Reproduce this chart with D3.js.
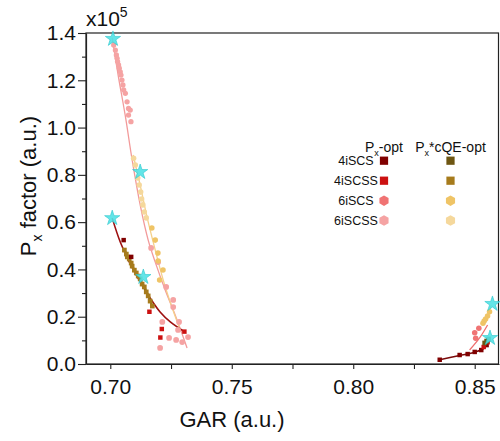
<!DOCTYPE html>
<html>
<head>
<meta charset="utf-8">
<script src="https://cdn.jsdelivr.net/npm/d3@7"></script>
<style>
  body { margin: 0; background: #fff; }
  svg { font-family: "Liberation Sans", Arial, sans-serif; }
</style>
</head>
<body>
<div id="chart"></div>
<script>
// axis ticks
const xTicks = [0.70, 0.75, 0.80, 0.85];
const xMinor = [0.725, 0.775, 0.825];
const yTicks = [0.0, 0.2, 0.4, 0.6, 0.8, 1.0, 1.2, 1.4];
const yMinor = [0.1, 0.3, 0.5, 0.7, 0.9, 1.1, 1.3];

// legend rows
const legendNames = ['4iSCS', '4iSCSS', '6iSCS', '6iSCSS'];
const colorsPx = ['#800000', '#cc1111', '#f07373', '#f5a3a3'];
const colorsCqe = ['#6e5612', '#a67b1c', '#efc466', '#f5d89c'];

// points [GAR, Px factor (x1e5)] - left group
const px4iSCS = [[0.7055, 0.524], [0.7086, 0.453]];
const px4iSCSS = [[0.7161, 0.221], [0.7212, 0.148], [0.7305, 0.137], [0.7206, 0.112]];
const px6iSCSS = [[0.7014, 1.349], [0.7021, 1.328], [0.7025, 1.307], [0.7028, 1.293], [0.7030, 1.279],
  [0.7034, 1.265], [0.7037, 1.251], [0.7041, 1.236], [0.7044, 1.222], [0.7048, 1.201], [0.7052, 1.180],
  [0.7055, 1.159], [0.7062, 1.145], [0.7069, 1.109], [0.7075, 1.081], [0.7082, 1.074], [0.7075, 1.053],
  [0.7085, 1.025]];
const px6iSCS = [[0.7197, 0.431], [0.7230, 0.326], [0.7259, 0.271], [0.7259, 0.241], [0.7283, 0.178],
  [0.7214, 0.178], [0.7279, 0.144], [0.7320, 0.114], [0.7242, 0.110], [0.7271, 0.102], [0.7296, 0.093],
  [0.7205, 0.068], [0.7168, 0.491]];
const cqe4iSCSS = [[0.7058, 0.482], [0.7066, 0.465], [0.7070, 0.453], [0.7078, 0.444], [0.7086, 0.427],
  [0.7090, 0.414], [0.7099, 0.397], [0.7107, 0.385], [0.7115, 0.372], [0.7123, 0.360], [0.7131, 0.338],
  [0.7140, 0.326], [0.7148, 0.305], [0.7156, 0.288], [0.7164, 0.266], [0.7173, 0.245]];
const cqe6iSCSS = [[0.7096, 0.870], [0.7103, 0.842], [0.7113, 0.787], [0.7119, 0.757], [0.7125, 0.727],
  [0.7129, 0.698], [0.7134, 0.673], [0.7140, 0.643], [0.7148, 0.618]];
const cqe6iSCS = [[0.7171, 0.575], [0.7185, 0.524], [0.7196, 0.469], [0.7197, 0.436], [0.7217, 0.398],
  [0.7203, 0.355]];

// points - right group
const rPx4iSCS = [[0.8356, 0.018], [0.8438, 0.038], [0.8471, 0.042], [0.8500, 0.051], [0.8527, 0.059], [0.8549, 0.080]];
const rPx4iSCSS = [[0.8537, 0.072], [0.8553, 0.092]];
const rPx6iSCS = [[0.8517, 0.151], [0.8500, 0.132], [0.8504, 0.109]];
const rCqe6iSCS = [[0.8561, 0.221], [0.8553, 0.203], [0.8545, 0.190], [0.8539, 0.182], [0.8534, 0.172]];
const rCqe4iSCS = [[0.8549, 0.097], [0.8557, 0.106], [0.8541, 0.089]];

// fit lines
const fit4iSCS = [[0.7008, 0.617], [0.7041, 0.516], [0.7082, 0.423], [0.7123, 0.347], [0.7164, 0.279],
  [0.7205, 0.220], [0.7247, 0.178], [0.7308, 0.135]];
const fitCqe4iSCSS = [[0.7058, 0.482], [0.7099, 0.397], [0.7140, 0.326], [0.7173, 0.245]];
const fit6iSCSS = [[0.7008, 1.379], [0.7033, 1.218], [0.7062, 1.048], [0.7090, 0.863], [0.7123, 0.673],
  [0.7156, 0.524], [0.7185, 0.431], [0.7226, 0.313], [0.7267, 0.207], [0.7316, 0.068]];
const fitCqe6iSCS = [[0.7094, 0.884], [0.7123, 0.757], [0.7152, 0.618], [0.7185, 0.482], [0.7218, 0.355],
  [0.7255, 0.237], [0.7288, 0.144]];
const fitR4iSCS = [[0.8356, 0.018], [0.8438, 0.036], [0.8500, 0.050], [0.8540, 0.068], [0.8561, 0.110]];
const fitR6iSCS = [[0.8479, 0.059], [0.8520, 0.110], [0.8553, 0.165]];
const fitRCqe6iSCS = [[0.8530, 0.165], [0.8550, 0.200], [0.8568, 0.250]];

// optimum stars
const stars = [[0.7011, 1.375], [0.7123, 0.812], [0.7008, 0.617], [0.7136, 0.368], [0.8573, 0.254], [0.8563, 0.110]];

const W = 500, H = 441;
const svg = d3.select('#chart').append('svg').attr('width', W).attr('height', H);

const x = d3.scaleLinear().domain([0.69, 0.86]).range([86, 499]);
const y = d3.scaleLinear().domain([0, 1.4]).range([364, 33]);

const symbolHex = {
  draw(ctx, size) {
    const r = Math.sqrt(2 * size / (3 * Math.sqrt(3)));
    for (let i = 0; i < 6; i++) {
      const a = Math.PI / 3 * i + Math.PI / 6;
      if (i === 0) ctx.moveTo(r * Math.cos(a), r * Math.sin(a));
      else ctx.lineTo(r * Math.cos(a), r * Math.sin(a));
    }
    ctx.closePath();
  }
};

// frame
svg.append('rect')
  .attr('x', 86).attr('y', 33).attr('width', 412.5).attr('height', 331)
  .attr('fill', 'none').attr('stroke', '#222').attr('stroke-width', 1.2);

const line = d3.line().x(d => x(d[0])).y(d => y(d[1])).curve(d3.curveCatmullRom);

function drawLine(data, color, w) {
  svg.append('path').datum(data).attr('d', line)
    .attr('fill', 'none').attr('stroke', color).attr('stroke-width', w);
}
drawLine(fit6iSCSS, '#f29a9a', 1.3);
drawLine(fitCqe6iSCS, '#f5d08a', 1.3);
drawLine(fit4iSCS, '#9e1010', 1.6);
drawLine(fitCqe4iSCSS, '#8a6a18', 2.2);
drawLine(fitR4iSCS, '#7a0a0a', 1.6);
drawLine(fitR6iSCS, '#ee6f6f', 1.3);
drawLine(fitRCqe6iSCS, '#f0c870', 1.3);

function drawPoints(data, color, type, size) {
  svg.append('g').selectAll('path').data(data).join('path')
    .attr('transform', d => `translate(${x(d[0])},${y(d[1])})`)
    .attr('d', d3.symbol().type(type).size(size))
    .attr('fill', color);
}
drawPoints(px6iSCSS, colorsPx[3], d3.symbolCircle, 22);
drawPoints(px6iSCS, colorsPx[3], d3.symbolCircle, 26);
drawPoints(cqe6iSCSS, colorsCqe[3], d3.symbolCircle, 24);
drawPoints(cqe6iSCS, colorsCqe[2], d3.symbolCircle, 24);
drawPoints(cqe4iSCSS, colorsCqe[1], d3.symbolSquare, 22);
drawPoints(px4iSCS, colorsPx[0], d3.symbolSquare, 20);
drawPoints(px4iSCSS, colorsPx[1], d3.symbolSquare, 20);
drawPoints(rPx6iSCS, colorsPx[2], d3.symbolCircle, 24);
drawPoints(rCqe6iSCS, colorsCqe[2], d3.symbolCircle, 24);
drawPoints(rPx4iSCS, colorsPx[0], d3.symbolSquare, 20);
drawPoints(rPx4iSCSS, colorsPx[1], d3.symbolSquare, 20);
drawPoints(rCqe4iSCS, colorsCqe[0], d3.symbolSquare, 22);

svg.append('g').selectAll('path').data(stars).join('path')
  .attr('transform', d => `translate(${x(d[0])},${y(d[1])})`)
  .attr('d', d3.symbol().type(d3.symbolStar).size(72))
  .attr('fill', '#52e2e6').attr('fill-opacity', 0.9)
  .attr('stroke', '#2cc6cc').attr('stroke-width', 0.6);

// axes
const xAxis = svg.append('g').attr('transform', 'translate(0,364)')
  .call(d3.axisBottom(x).tickValues(xTicks).tickFormat(d3.format('.2f')).tickSize(5).tickSizeOuter(0));
svg.append('g').attr('transform', 'translate(0,364)')
  .call(d3.axisBottom(x).tickValues(xMinor).tickFormat('').tickSize(5).tickSizeOuter(0))
  .select('.domain').remove();
const yAxis = svg.append('g').attr('transform', 'translate(86,0)')
  .call(d3.axisLeft(y).tickValues(yTicks).tickFormat(d3.format('.1f')).tickSize(8).tickSizeOuter(0));
svg.append('g').attr('transform', 'translate(86,0)')
  .call(d3.axisLeft(y).tickValues(yMinor).tickFormat('').tickSize(4).tickSizeOuter(0))
  .select('.domain').remove();

svg.selectAll('.domain').attr('stroke', '#222').attr('stroke-width', 1.2);
svg.selectAll('.tick line').attr('stroke', '#222').attr('stroke-width', 1.1);
xAxis.selectAll('.tick text').attr('font-size', 21).attr('fill', '#111').attr('font-family', 'Liberation Sans, Arial').attr('dy', '1.05em');
yAxis.selectAll('.tick text').attr('font-size', 21).attr('fill', '#111').attr('font-family', 'Liberation Sans, Arial').attr('x', -10);

// multiplier
const mult = svg.append('text').attr('x', 86).attr('y', 26).attr('font-size', 21).attr('fill', '#111');
mult.append('tspan').text('x10');
mult.append('tspan').attr('dy', -9).attr('font-size', 14).text('5');

// axis titles
svg.append('text').attr('x', 232).attr('y', 427).attr('text-anchor', 'middle')
  .attr('font-size', 22).attr('fill', '#111').text('GAR (a.u.)');
const yt = svg.append('text').attr('transform', 'translate(36,186) rotate(-90)')
  .attr('text-anchor', 'middle').attr('font-size', 22).attr('fill', '#111');
yt.append('tspan').text('P');
yt.append('tspan').attr('dy', 6).attr('font-size', 14).text('x');
yt.append('tspan').attr('dy', -6).text(' factor (a.u.)');

// legend
const col1 = 384, col2 = 450.5, rowY = [160.7, 180.7, 200.7, 220.5];
function header(cx, rest) {
  const t = svg.append('text').attr('x', cx).attr('y', 151.5).attr('text-anchor', 'middle')
    .attr('font-size', 14).attr('fill', '#111');
  t.append('tspan').text('P');
  t.append('tspan').attr('dy', 4).attr('font-size', 9).text('x');
  t.append('tspan').attr('dy', -4).text(rest);
}
header(col1, '-opt');
header(col2, '*cQE-opt');
legendNames.forEach((name, i) => {
  svg.append('text').attr('x', 356).attr('y', rowY[i] + 4.5).attr('text-anchor', 'middle')
    .attr('font-size', 12.5).attr('fill', '#111').text(name);
  const type = i < 2 ? d3.symbolSquare : symbolHex;
  const size = i < 2 ? 68 : 72;
  svg.append('path').attr('transform', `translate(${col1},${rowY[i]})`)
    .attr('d', d3.symbol().type(type).size(size)).attr('fill', colorsPx[i]);
  svg.append('path').attr('transform', `translate(${col2},${rowY[i]})`)
    .attr('d', d3.symbol().type(type).size(size)).attr('fill', colorsCqe[i]);
});
</script>
</body>
</html>
